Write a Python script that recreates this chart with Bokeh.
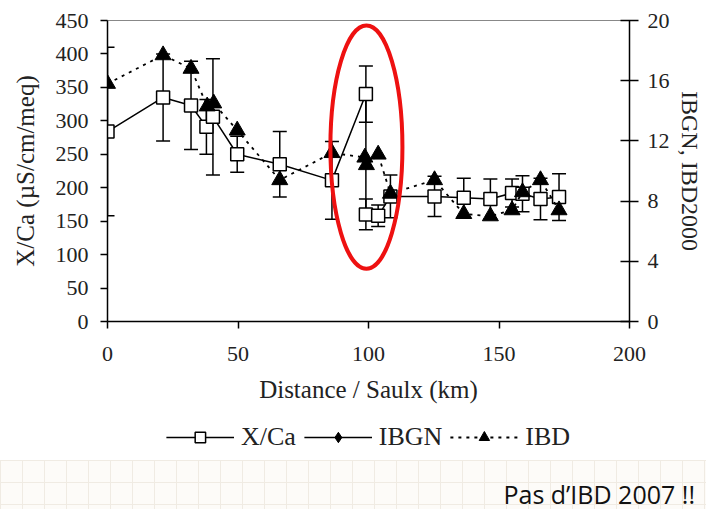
from bokeh.plotting import figure
from bokeh.models import (Range1d, LinearAxis, Whisker, TeeHead, ColumnDataSource,
                          Legend, LegendItem, FixedTicker, Div)
from bokeh.layouts import column
from bokeh.embed import file_html
from bokeh.resources import INLINE

NAN = float("nan")

# ---------------- data ----------------
dist_xca = [0, 21.3, 32, 37.9, 40.4, 49.7, 66, 86, 99, 99, 103.7, 108.4,
            125.3, 136.5, 146.7, 155, 159, 165.9, 173]
xca = [284, 335, 323, 291, 306, 250, 235, 211, 340, 160, 158, 187,
       187, 185, 183, 192, 191, 183, 186]
xca_err = [126, 65, 66, 41, 87, 27, 49, 58, 42, 23, 16, 32,
           30, 29, 30, 21, 27, 31, 35]

dist_ibd = [0, 21.3, 32, 38.2, 40.7, 49.7, 66, 86, 98.6, 99.2, 103.7, 108.4,
            125.3, 136.5, 146.7, 155, 159, 165.9, 173]
ibd = [15.8, 17.7, 16.8, 14.3, 14.5, 12.7, 9.4, 11.2, 10.9, 10.4, 11.1, 8.5,
       9.4, 7.15, 7.0, 7.4, 8.6, 9.4, 7.4]

# IBGN series: no visible value in the chart (listed in the legend only)
dist_ibgn = [NAN]
ibgn = [NAN]

x_ticks = [0, 50, 100, 150, 200]
left_ticks = [0, 50, 100, 150, 200, 250, 300, 350, 400, 450]
right_ticks = [0, 4, 8, 12, 16, 20]

note_text = "Pas d’IBD 2007 !!"

# highlighted region (red ellipse), in data units
ell_x, ell_y, ell_w, ell_h = 99.2, 260.7, 27.6, 363.5

SERIF = "Liberation Serif"
TICK_FS = "22px"
LABEL_FS = "25px"

p = figure(width=706, height=418, x_range=Range1d(0, 200), y_range=Range1d(0, 450),
           output_backend="svg", toolbar_location=None,
           min_border_left=107, min_border_right=77, min_border_top=20,
           min_border_bottom=97)
p.extra_y_ranges = {"right": Range1d(0, 20)}
p.grid.visible = False
p.outline_line_color = "#888888"
p.background_fill_color = "white"
p.border_fill_color = "white"

# axes styling
p.xaxis.ticker = FixedTicker(ticks=x_ticks)
p.yaxis.ticker = FixedTicker(ticks=left_ticks)
for ax in (p.xaxis[0], p.yaxis[0]):
    ax.axis_line_width = 1.5
    ax.major_tick_line_width = 1.5
    ax.minor_tick_line_color = None
    ax.major_tick_in = 0
    ax.major_tick_out = 7
    ax.major_label_text_font = SERIF
    ax.major_label_text_font_size = TICK_FS
    ax.major_label_text_color = "#222222"
    ax.axis_label_text_font = SERIF
    ax.axis_label_text_font_size = LABEL_FS
    ax.axis_label_text_font_style = "normal"
    ax.axis_label_text_color = "#222222"
p.xaxis.axis_label = "Distance / Saulx (km)"
p.xaxis.major_label_standoff = 18
p.xaxis.axis_label_standoff = 12
p.yaxis.axis_label = "X/Ca (µS/cm/meq)"
p.yaxis.major_label_standoff = 12
p.yaxis.axis_label_standoff = 14

rax = LinearAxis(y_range_name="right", ticker=FixedTicker(ticks=right_ticks),
                 axis_label="IBGN, IBD2000")
rax.axis_line_width = 1.5
rax.major_tick_line_width = 1.5
rax.minor_tick_line_color = None
rax.major_tick_in = 9
rax.major_tick_out = 9
rax.major_label_standoff = 9
rax.major_label_text_font = SERIF
rax.major_label_text_font_size = TICK_FS
rax.major_label_text_color = "#222222"
rax.axis_label_text_font = SERIF
rax.axis_label_text_font_size = "24px"
rax.axis_label_text_font_style = "normal"
rax.axis_label_text_color = "#222222"
rax.axis_label_standoff = 4
p.add_layout(rax, "right")

# ---------------- X/Ca ----------------
src = ColumnDataSource(dict(
    x=dist_xca, y=xca,
    upper=[v + e for v, e in zip(xca, xca_err)],
    lower=[v - e for v, e in zip(xca, xca_err)]))
wh = Whisker(base="x", upper="upper", lower="lower", source=src,
             line_color="black", line_width=1.5,
             upper_head=TeeHead(size=14, line_width=1.5, line_color="black"),
             lower_head=TeeHead(size=14, line_width=1.5, line_color="black"))
p.add_layout(wh)
p.line("x", "y", source=src, line_color="black", line_width=1.5)
p.scatter("x", "y", source=src, marker="square", size=13,
          fill_color="white", line_color="black", line_width=1.5)

# ---------------- IBGN (no visible points) ----------------
p.line(dist_ibgn, ibgn, y_range_name="right", line_color="black", line_width=1.5)
p.scatter(dist_ibgn, ibgn, y_range_name="right", marker="diamond", size=17,
          fill_color="black", line_color="black")

# ---------------- IBD ----------------
p.line(dist_ibd, ibd, y_range_name="right", line_color="black",
       line_width=1.8, line_dash="3 5")
p.scatter(dist_ibd, ibd, y_range_name="right", marker="triangle",
          size=16, fill_color="black", line_color="black")

# ---------------- red ellipse ----------------
p.ellipse(x=[ell_x], y=[ell_y], width=[ell_w], height=[ell_h],
          fill_color=None, line_color="#ee1111", line_width=4)

# ---------------- legend (own strip under the chart) ----------------
lg = figure(width=706, height=42, x_range=Range1d(0, 1), y_range=Range1d(0, 1),
            output_backend="svg", toolbar_location=None,
            x_axis_type=None, y_axis_type=None,
            min_border_left=20, min_border_right=0, min_border_top=0,
            min_border_bottom=4, outline_line_color=None)
lg.grid.visible = False
l1 = lg.line([NAN], [NAN], line_color="black", line_width=1.5)
m1 = lg.scatter([NAN], [NAN], marker="square", size=13,
                fill_color="white", line_color="black", line_width=1.5)
l2 = lg.line([NAN], [NAN], line_color="black", line_width=1.5)
m2 = lg.scatter([NAN], [NAN], marker="diamond", size=19,
                fill_color="black", line_color="black")
l3 = lg.line([NAN], [NAN], line_color="black", line_width=1.8, line_dash="3 5")
m3 = lg.scatter([NAN], [NAN], marker="triangle", size=16,
                fill_color="black", line_color="black")
legend = Legend(items=[
    LegendItem(label="X/Ca", renderers=[l1, m1]),
    LegendItem(label="IBGN", renderers=[l2, m2]),
    LegendItem(label="IBD", renderers=[l3, m3]),
], orientation="horizontal", location="center")
legend.label_text_font = SERIF
legend.label_text_font_size = "26px"
legend.label_text_color = "#222222"
legend.glyph_width = 68
legend.glyph_height = 26
legend.spacing = 8
legend.label_standoff = 7
legend.padding = 2
legend.margin = 0
legend.border_line_color = None
legend.background_fill_alpha = 0
lg.add_layout(legend)

# ---------------- bottom strip (slide background + note) ----------------
note = Div(width=706, height=49, margin=(0, 0, 0, 0), text=(
    '<div style="width:706px;height:49px;box-sizing:border-box;'
    'background-color:#fdfbf8;'
    'background-image:linear-gradient(to right,#f0ebe3 1px,transparent 1px),'
    'linear-gradient(to bottom,#f0ebe3 1px,transparent 1px);'
    'background-size:22px 22px;white-space:nowrap;'
    'font-family:\'Open Sans\';font-size:25px;color:#111;'
    'text-align:right;padding-right:11px;padding-top:20px;line-height:28px;">'
    + note_text + '</div>'))

layout = column(p, lg, note, spacing=0)
open("out.html", "w").write(file_html(layout, INLINE))
